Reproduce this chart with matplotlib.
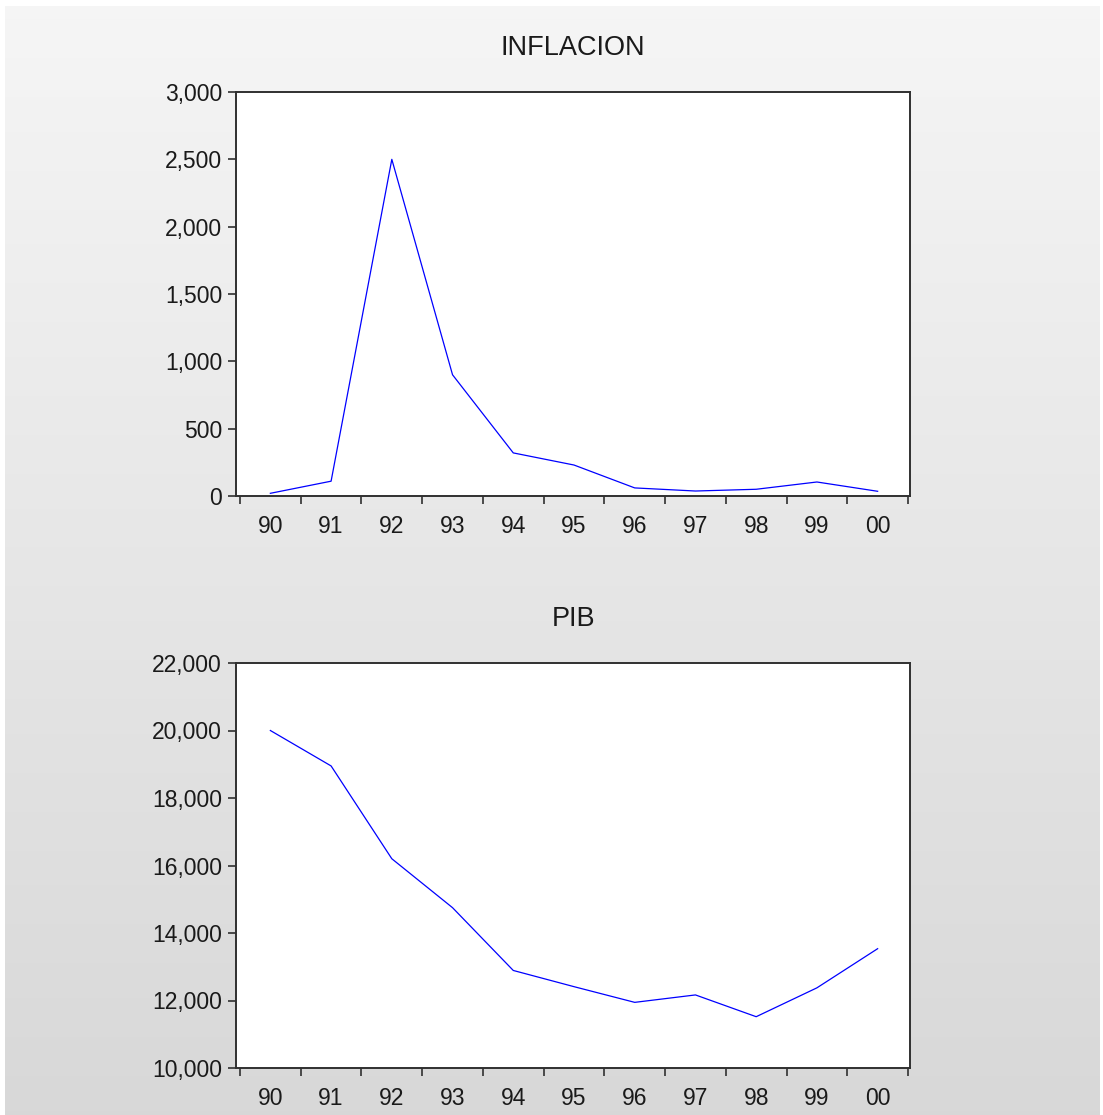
import numpy as np
import matplotlib
matplotlib.use("Agg")
import matplotlib.pyplot as plt
from matplotlib.ticker import StrMethodFormatter, FixedLocator, FixedFormatter

plt.rcParams['font.family'] = ['Liberation Sans', 'DejaVu Sans']

# datos anuales 1990-2000
years = [1990, 1991, 1992, 1993, 1994, 1995, 1996, 1997, 1998, 1999, 2000]
year_labels = ["90", "91", "92", "93", "94", "95", "96", "97", "98", "99", "00"]
inflacion = [20, 110, 2500, 900, 320, 230, 60, 37, 50, 104, 35]
pib = [20000, 18950, 16200, 14750, 12890, 12410, 11945, 12165, 11520, 12375, 13535]

inf_ticks = [0, 500, 1000, 1500, 2000, 2500, 3000]
pib_ticks = [10000, 12000, 14000, 16000, 18000, 20000, 22000]

W, H = 1103, 1115
fig = plt.figure(figsize=(W / 100, H / 100), dpi=100)
fig.patch.set_facecolor("white")

# fondo degradado tipo EViews
bg = fig.add_axes([5 / W, 0, (1100 - 5) / W, (H - 6) / H], zorder=-10)
grad = np.linspace(0, 1, 256).reshape(-1, 1)
top_c = np.array([0.962, 0.962, 0.962])
bot_c = np.array([0.847, 0.847, 0.847])
img = top_c + (bot_c - top_c) * grad[..., None]
bg.imshow(np.repeat(img, 2, axis=1), aspect="auto", extent=[0, 1, 0, 1])
bg.set_axis_off()

left = 236 / W
width = (910 - 236) / W
frame_col = "#303030"
text_col = "#1a1a1a"


def panel(rect, values, title, ylim, yticks):
    ax = fig.add_axes(rect)
    ax.set_facecolor("white")
    x = [y + 0.5 for y in years]
    ax.plot(x, values, color="#0000ff", lw=0.9)
    ax.set_xlim(years[0] - 4 / 60.7, years[-1] + 1 + 2 / 60.7)
    ax.set_ylim(*ylim)
    ax.set_yticks(yticks)
    ax.yaxis.set_major_formatter(StrMethodFormatter("{x:,.0f}"))
    ax.xaxis.set_major_locator(FixedLocator(years + [years[-1] + 1]))
    ax.xaxis.set_major_formatter(FixedFormatter([""] * (len(years) + 1)))
    ax.xaxis.set_minor_locator(FixedLocator(x))
    ax.xaxis.set_minor_formatter(FixedFormatter(year_labels))
    ax.tick_params(axis="x", which="major", direction="out", length=6,
                   width=1.2, color=frame_col)
    ax.tick_params(axis="x", which="minor", length=0, pad=13.5,
                   labelsize=16.5, labelcolor=text_col)
    ax.tick_params(axis="y", direction="out", length=6, width=1.2,
                   color=frame_col, pad=4, labelsize=16.5, labelcolor=text_col)
    for s in ax.spines.values():
        s.set_color(frame_col)
        s.set_linewidth(1.4)
    ax.set_title(title, fontsize=19.5, color=text_col, pad=26.5)
    return ax


panel([left, 1 - 496 / H, width, 404 / H], inflacion, "INFLACION",
      (0, 3000), inf_ticks)
panel([left, 1 - 1068 / H, width, 405 / H], pib, "PIB",
      (10000, 22000), pib_ticks)

fig.savefig("out.png", dpi=100, facecolor=fig.get_facecolor())
